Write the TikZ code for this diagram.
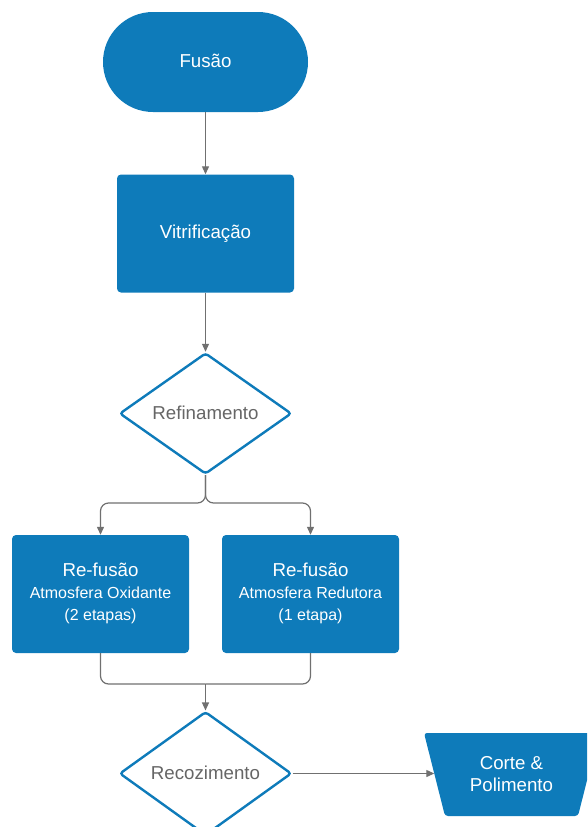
\documentclass[tikz,border=0pt]{standalone}
\usepackage{fontspec}
\setmainfont{Liberation Sans}
\usetikzlibrary{shapes.geometric,arrows.meta}
\definecolor{flowblue}{HTML}{0E7BBA}
\definecolor{flowgray}{HTML}{666666}
\definecolor{linegray}{HTML}{707070}
\newcommand\subtxt{\fontsize{16}{19}\selectfont}
\tikzset{
  big/.style={font=\fontsize{18.7}{22}\selectfont},
  process/.style={rectangle, rounded corners=4pt, fill=flowblue, text=white,
    minimum width=177pt, minimum height=118pt, inner sep=0pt, align=center, big},
  terminal/.style={rectangle, rounded corners=50pt, fill=flowblue, text=white,
    minimum width=205pt, minimum height=100pt, inner sep=0pt, big},
  decision/.style={diamond, draw=flowblue, line width=2.4pt, fill=white,
    rounded corners=3pt, text=flowgray, minimum width=172pt, minimum height=115pt,
    inner sep=0pt, big},
  manualtext/.style={rectangle, text=white, minimum width=154pt, minimum height=83pt,
    inner sep=0pt, align=center, big},
  manualfill/.style={fill=flowblue, rounded corners=3pt},
  conn/.style={draw=linegray, line width=1.2pt, rounded corners=8pt},
  arr/.style={conn, -{Triangle[length=8pt,width=7pt]}}
}
\begin{document}
\begin{tikzpicture}[x=1pt,y=-1pt]
\useasboundingbox (0,0) rectangle (587,827);
\clip (0,0) rectangle (587,827);

% manual operation shape (wider at the top)
\path[manualfill] (424,733) -- (599,733) -- (578,816) -- (445,816) -- cycle;

% process steps
\node[terminal] (fusao) at (205.5,62) {\raisebox{2.5pt}{Fusão}};
\node[process] (vitri) at (205.5,233.5) {\raisebox{1.5pt}{Vitrificação}};
\node[decision] (refin) at (205.5,413.5) {\raisebox{1.5pt}{Refinamento}};
\node[process] (oxid) at (100.5,594) {\raisebox{1pt}{\begin{tabular}{@{}c@{}}Re-fusão\\{\subtxt Atmosfera Oxidante}\\{\subtxt (2 etapas)}\end{tabular}}};
\node[process] (redut) at (310.5,594) {\raisebox{1pt}{\begin{tabular}{@{}c@{}}Re-fusão\\{\subtxt Atmosfera Redutora}\\{\subtxt (1 etapa)}\end{tabular}}};
\node[decision] (recoz) at (205.5,773.5) {\raisebox{1pt}{Recozimento}};
\node[manualtext] (polir) at (511.5,774.5) {Corte \&\\[0pt]Polimento};

% branch and join points
\coordinate (split) at (205.5,503);
\coordinate (join) at (205.5,684);

% connectors
\draw[arr] (fusao.south) -- (vitri.north);
\draw[arr] (vitri.south) -- (refin.north);
\draw[arr] (refin.south) -- (split) -| (oxid.north);
\draw[arr] (refin.south) -- (split) -| (redut.north);
\draw[conn] (oxid.south) |- (join);
\draw[conn] (redut.south) |- (join);
\draw[arr] (join) -- (recoz.north);
\draw[arr] (recoz.east) -- (recoz.east -| polir.west);
\end{tikzpicture}
\end{document}
